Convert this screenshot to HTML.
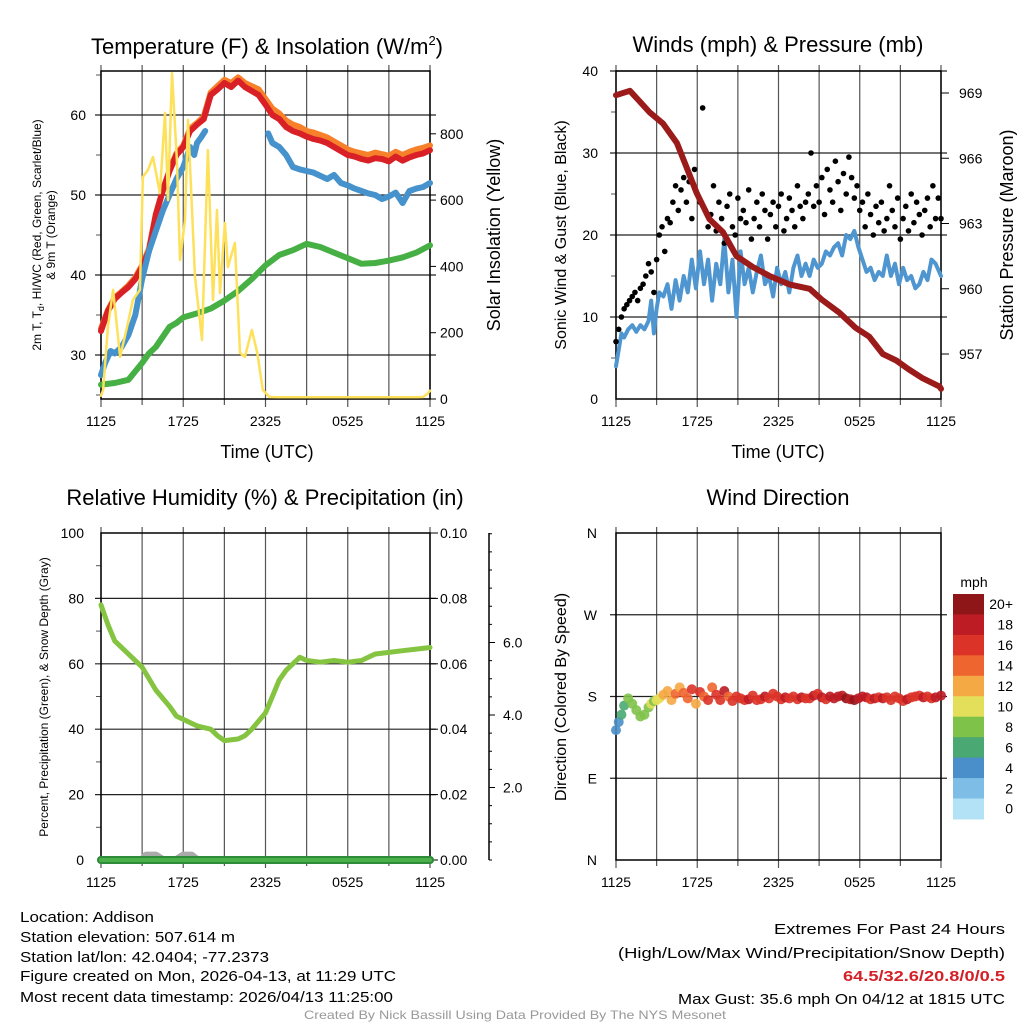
<!DOCTYPE html>
<html><head><meta charset="utf-8">
<style>
html,body{margin:0;padding:0;background:#fff;}
svg{display:block;font-family:"Liberation Sans",sans-serif;}
</style></head>
<body>
<svg id="chart" width="1024" height="1024" viewBox="0 0 1024 1024" xmlns="http://www.w3.org/2000/svg">
<rect x="0" y="0" width="1024" height="1024" fill="#fff"/>
<g id="p1"></g>
<g id="p2"></g>
<g id="p3"></g>
<g id="p4"></g>

<text x="267" y="54" font-size="22" text-anchor="middle">Temperature (F) &amp; Insolation (W/m<tspan font-size="13" dy="-9">2</tspan><tspan dy="9">)</tspan></text>
<text x="778" y="52" font-size="22" text-anchor="middle">Winds (mph) &amp; Pressure (mb)</text>
<text x="265" y="505" font-size="22" text-anchor="middle">Relative Humidity (%) &amp; Precipitation (in)</text>
<text x="778" y="505" font-size="22" text-anchor="middle">Wind Direction</text>

<text x="267" y="458" font-size="18" text-anchor="middle">Time (UTC)</text>
<text x="778" y="458" font-size="18" text-anchor="middle">Time (UTC)</text>

<text transform="translate(41,235) rotate(-90)" font-size="12" text-anchor="middle">2m T, T<tspan font-size="9" dy="3">d</tspan><tspan dy="-3">, HI/WC (Red, Green, Scarlet/Blue)</tspan></text>
<text transform="translate(55,235) rotate(-90)" font-size="12" text-anchor="middle">&amp; 9m T (Orange)</text>
<text transform="translate(500,235) rotate(-90)" font-size="18" text-anchor="middle">Solar Insolation (Yellow)</text>
<text transform="translate(566,235) rotate(-90)" font-size="16" text-anchor="middle">Sonic Wind &amp; Gust (Blue, Black)</text>
<text transform="translate(1013,235) rotate(-90)" font-size="18" text-anchor="middle">Station Pressure (Maroon)</text>
<text transform="translate(48,697) rotate(-90)" font-size="12" text-anchor="middle">Percent, Precipitation (Green), &amp; Snow Depth (Gray)</text>
<text transform="translate(566,697) rotate(-90)" font-size="16" text-anchor="middle">Direction (Colored By Speed)</text>

<g font-size="15">
<text x="20" y="922" textLength="134" lengthAdjust="spacingAndGlyphs">Location: Addison</text>
<text x="20" y="942" textLength="215" lengthAdjust="spacingAndGlyphs">Station elevation: 507.614 m</text>
<text x="20" y="962" textLength="249" lengthAdjust="spacingAndGlyphs">Station lat/lon: 42.0404; -77.2373</text>
<text x="20" y="981" textLength="376" lengthAdjust="spacingAndGlyphs">Figure created on Mon, 2026-04-13, at 11:29 UTC</text>
<text x="20" y="1002" textLength="373" lengthAdjust="spacingAndGlyphs">Most recent data timestamp: 2026/04/13 11:25:00</text>
</g>
<g font-size="15" text-anchor="end">
<text x="1005" y="934" textLength="231" lengthAdjust="spacingAndGlyphs">Extremes For Past 24 Hours</text>
<text x="1005" y="958" textLength="387" lengthAdjust="spacingAndGlyphs">(High/Low/Max Wind/Precipitation/Snow Depth)</text>
<text x="1005" y="981" textLength="162" lengthAdjust="spacingAndGlyphs" font-weight="bold" fill="#d42027">64.5/32.6/20.8/0/0.5</text>
<text x="1005" y="1004" textLength="327" lengthAdjust="spacingAndGlyphs">Max Gust: 35.6 mph On 04/12 at 1815 UTC</text>
</g>
<text x="515" y="1019" font-size="12" fill="#999" text-anchor="middle" textLength="422" lengthAdjust="spacingAndGlyphs">Created By Nick Bassill Using Data Provided By The NYS Mesonet</text>
</svg>
<script>
// ---------- data ----------
const X_TICK_LABELS = ["1125","1725","2325","0525","1125"];
const TEMP_H = [0,0.5,1,1.5,2,2.5,3,3.5,4,4.5,5,5.5,6,6.5,7,7.5,8,8.5,9,9.5,10,10.5,11,11.5,12,12.5,13,13.5,14,14.5,15,15.5,16,16.5,17,17.5,18,18.5,19,19.5,20,20.5,21,21.5,22,22.5,23,23.5,24];
const TEMP_RED = [33,35.5,37,37.8,38.5,39.5,41,43,47.5,50.5,53,55,56,58,58.8,59.5,62.5,63.2,64,63.5,64.3,63.5,63,62.5,61.3,60,59.5,58.5,58,57.7,57.3,57,56.8,56.5,56,55.5,55,54.8,54.5,54.3,54.6,54.5,54.2,54.8,54.3,54.7,55,55.2,55.6];
const TEMP_ORANGE = [33.3,35.6,37.2,37.9,38.7,39.7,41.2,43.3,47.6,50.6,53.1,55.2,56.2,58.3,59,59.8,62.8,63.6,64.4,64,64.7,64,63.6,63.2,62,60.8,60.2,59.3,58.8,58.5,58,57.8,57.5,57.2,56.7,56.2,55.7,55.4,55.2,55,55.3,55.1,54.9,55.4,55,55.4,55.7,55.9,56.2];
const BLUE1_H = [0,0.3,0.7,1,1.5,2,2.5,3,3.5,4,4.5,5,5.5,6,6.5,6.8,7,7.3,7.6];
const BLUE1 = [27.5,29,30.5,30.2,31,32.5,35,39.5,43,45.5,48,50,52,53.5,56,55,56.5,57.2,58];
const BLUE2_H = [12.2,12.5,13,13.5,14,14.5,15,15.5,16,16.5,17,17.5,18,18.5,19,19.5,20,20.5,21,21.5,22,22.5,23,23.5,24];
const BLUE2 = [57.7,56.5,56,55,53.5,53.2,53,52.8,52.4,52,52.5,51.5,51.2,50.8,50.5,50.2,50,49.5,49.8,50.3,49,50.5,50.8,51,51.5];
const GREEN_H = [0,1,2,3,3.5,4,5,5.5,6,7,8,9,10,11,12,13,14,15,16,17,18,19,20,21,22,23,24];
const GREEN = [26.3,26.5,26.9,29,30.2,31,33.5,34,34.7,35.2,35.8,36.8,38,39.5,41.2,42.5,43.1,43.9,43.5,42.8,42.1,41.4,41.5,41.8,42.2,42.8,43.7];
const SOLAR_H = [0,0.15,0.5,0.88,1.39,1.9,2.33,2.84,3.06,3.43,3.79,4.3,4.67,4.89,5.18,5.54,5.76,6.13,6.35,6.86,7.37,7.8,8.17,8.46,8.68,9.04,9.26,9.77,10.14,10.5,11,11.4,11.8,12.3,13,15,17,19,21,23,23.5,23.8,24];
const SOLAR = [10,27,217,329,127,217,299,329,670,691,730,621,863,600,983,721,419,540,842,368,178,751,299,570,320,531,398,471,139,127,208,139,27,6,5,5,5,5,5,5,6,15,25];

const PRES_H = [0,1.03,2.5,3.46,4.5,5.2,5.96,6.9,7.9,8.9,10.1,11.3,12.8,14.3,15.2,16.5,17.7,18.7,19.7,20.7,21.6,22.6,23.9,24];
const PRESSURE = [968.9,969.1,968.1,967.6,966.7,965.6,964.4,963.2,962.6,961.5,961.0,960.6,960.2,960.0,959.5,958.9,958.2,957.8,957.0,956.7,956.3,955.9,955.5,955.4];
const WIND_H = [0,0.2,0.4,0.6,0.9,1.2,1.5,1.8,2.1,2.4,2.6,2.8,3.0,3.2,3.5,3.8,4.1,4.4,4.7,5.0,5.3,5.6,5.9,6.2,6.5,6.8,7.1,7.4,7.7,8.0,8.3,8.6,8.9,9.2,9.5,9.8,10.1,10.4,10.7,11.0,11.3,11.6,11.9,12.2,12.5,12.8,13.1,13.4,13.7,14.0,14.3,14.6,14.9,15.2,15.5,15.8,16.1,16.4,16.7,17.0,17.3,17.6,17.9,18.2,18.5,18.8,19.1,19.4,19.7,20.0,20.3,20.6,20.9,21.2,21.5,21.8,22.1,22.4,22.7,23.0,23.3,23.6,24];
const WIND = [4,6,8,7.5,8.5,9,8.2,9,8.5,9.5,12,8,11,13,12.5,14,11,14.5,12,15,13,17,13.5,18,14,17,12,16.5,14,19.5,13,17,10,18,14,16,13,15.5,17.5,14,15,12.5,16,14,15.5,13,16,17.5,15,16.5,15,17,16,16.5,18,17.5,18.5,19,17.5,20,19.5,20.5,18.5,17,15.5,16,14.5,15.5,15,17.5,15,16.5,14,16,14.5,15,13.5,14,15.5,14.5,17,16.5,15];
const GUST = [7,8.5,10,11,11.5,12,12.5,13,12,13.5,14, 15,16.5,15.5,13,17, 20,21,18,22,21.5,24,26,23,25.5,27,24,26.5,22,28,25, 24,35.5,23,21,22.5,26,20.5,24,22,19,23.5,25,21,20,24.5,22,23,21.5,25.5,19.5, 22,24,21,25,23,19.5,22.5,24,21,23.5,25,20.5,22,24.5,23,21,26,23.5,22,24, 25,30,23.5,26,24,27,22.5,28,25.5,24,29,26.5,23,27.5,25,29.5,27,24.5,26,23, 24,21,25,22.5,20,23.5,21.5,24,20.5,22,26,23,21,24.5,19.5,22,23.5,20.5,25,21.5, 24,22.5,20,23,24.5,21,26,22,24.5,22];
const GUST_STEP_H = 0.2;

const RH_H = [0,0.5,1,2,3,4,5,5.5,6,7,8,8.5,9,10,10.5,11,12,12.5,13,13.5,14,14.5,15,16,17,18,19,19.5,20,21,22,23,24];
const RH = [78,72,67,63,59,52,47,44,43,41,40,38,36.5,37,38,40,45,50,55,58,60,62,61,60.5,61,60.5,61,62,63,63.5,64,64.5,65];
const SNOW_H = [0,3.0,3.3,4.0,4.5,5.5,6.0,6.6,7.0,24];
const SNOW = [0,0,0.12,0.12,0,0,0.12,0.12,0,0];

const DIR = [143,152,160,170,178,172,165,158,160,168,172,175,176,178,182,186,176,183,190,184,178,188,172,185,180,176,190,182,176,186,180,175,180,178,176,177,181,176,177,180,178,183,180,177,179,178,180,177,179,178,178,181,183,179,177,180,178,180,181,178,177,176,178,180,179,177,178,179,178,179,176,180,178,175,177,179,180,181,179,180,178,179,181];
const DIR_SPEED = [4,5,6,7, 8,8.5,8,9,8.5,9, 10,9.5,11,11, 12,13,12.5,14,13,15,14,16,13, 17,15,16,14,17,16,18,15,17,16, 17,16,18,17,16,17,18,17,16,17, 17,18,17,16,17,18,17,17,18,17, 18,17,18,19,18,18,20,19,20,18, 19,18,17,18,17,18,17,17,16,17, 17,18,17,16,17,18,17,17,18,18];
const SPEED_BINS = ["0","2","4","6","8","10","12","14","16","18","20+"];
const BIN_COLORS = ["#b3e1f6","#7dbde6","#4a8fc9","#4aa872","#7fc24a","#e4df5a","#f5a945","#ef6530","#dc3328","#bd1c24","#8e1518"];

// ---------- helpers ----------
const NS = "http://www.w3.org/2000/svg";
function mk(parent, tag, attrs){
  const e = document.createElementNS(NS, tag);
  for (const k in attrs) e.setAttribute(k, attrs[k]);
  parent.appendChild(e);
  return e;
}
function txt(parent, x, y, s, size, anchor){
  const t = mk(parent, "text", {x:x, y:y, "font-size":size, "text-anchor":anchor||"middle"});
  t.textContent = s;
  return t;
}
function poly(parent, hs, vs, sx, sy, color, w){
  const n = Math.min(hs.length, vs.length);
  let d = "";
  for (let i=0;i<n;i++) d += (i?"L":"M") + sx(hs[i]).toFixed(1) + "," + sy(vs[i]).toFixed(1);
  return mk(parent, "path", {d:d, fill:"none", stroke:color, "stroke-width":w, "stroke-linejoin":"round", "stroke-linecap":"round"});
}
function frame(g, x0, x1, y0, y1, yTicks, sy, minorTicks){
  for (let i=0;i<=8;i++){
    const x = x0 + (x1-x0)*i/8;
    const l = mk(g, "line", {x1:x, x2:x, y1:y0-6, y2:y1+(i%2===0?8:6), stroke:"#555", "stroke-width":1.2});
    
    
  }
  for (let i=0;i<X_TICK_LABELS.length;i++){
    const t = txt(g, x0 + (x1-x0)*i/4, y1+27, X_TICK_LABELS[i], 14);
    
    
  }
  for (const v of yTicks){
    const y = sy(v);
    const l = mk(g, "line", {x1:x0-6, x2:x1+6, y1:y, y2:y, stroke:"#222", "stroke-width":1.2});
    
    
  }
  if (minorTicks) for (const v of minorTicks){
    const l = mk(g, "line", {x1:x0-5, x2:x0, y1:sy(v), y2:sy(v), stroke:"#555", "stroke-width":1});
    
    
  }
  const b = mk(g, "rect", {x:x0, y:y0, width:x1-x0, height:y1-y0, fill:"none", stroke:"#000", "stroke-width":1.5});
  
  
}

// ---------- panel 1 ----------
(function(){
  const g = document.getElementById("p1");
  const X0=101, X1=430, Y0=71, Y1=399;
  const sx = h => X0 + (X1-X0)*h/24;
  const sy = T => 355 - (T-30)*8;
  const sw = W => 399 - W*0.3315;
  frame(g, X0, X1, Y0, Y1, [30,40,50,60], sy, [25,35,45,55,65]);
  for (const v of [30,40,50,60]){
    const t = txt(g, 86, sy(v)+5, String(v), 14, "end");
    
    
  }
  for (const w of [0,200,400,600,800]){
    const l = mk(g, "line", {x1:X1, x2:X1+6, y1:sw(w), y2:sw(w), stroke:"#000"});
    
    
    const t = txt(g, X1+10, sw(w)+5, String(w), 14, "start");
    
    
  }
  let p;
  p = poly(g, GREEN_H, GREEN, sx, sy, "#46b044", 6);
  
  
  p = poly(g, TEMP_H, TEMP_ORANGE, sx, sy, "#f7812a", 6);
  
  
  p = poly(g, TEMP_H, TEMP_RED, sx, sy, "#d92027", 6);
  
  
  p = poly(g, BLUE1_H, BLUE1, sx, sy, "#4692cc", 6);
  
  
  p = poly(g, BLUE2_H, BLUE2, sx, sy, "#4692cc", 6);
  
  
  p = poly(g, SOLAR_H, SOLAR, sx, sw, "#fde15a", 2.5);
  
  
})();

// ---------- panel 2 ----------
(function(){
  const g = document.getElementById("p2");
  const X0=616, X1=941, Y0=71, Y1=399;
  const sx = h => X0 + (X1-X0)*h/24;
  const sy = v => 399 - v*8.2;
  const sp = p => 93 + (969-p)*21.75;
  frame(g, X0, X1, Y0, Y1, [10,20,30,40], sy, [5,15,25,35]);
  for (const v of [0,10,20,30,40]){
    const t = txt(g, 598, sy(v)+5, String(v), 14, "end");
    
    
  }
  for (const pr of [969,966,963,960,957]){
    const l = mk(g, "line", {x1:X1, x2:X1+8, y1:sp(pr), y2:sp(pr), stroke:"#000"});
    
    
    const t = txt(g, X1+18, sp(pr)+5, String(pr), 14, "start");
    
    
  }
  let p = poly(g, WIND_H, WIND, sx, sy, "#4f96d1", 4);
  
  
  for (let i=0;i<GUST.length;i++){
    const c = mk(g, "circle", {cx:sx(i*GUST_STEP_H), cy:sy(GUST[i]), r:2.8, fill:"#000"});
    
    
  }
  p = poly(g, PRES_H, PRESSURE, sx, sp, "#9b1b1b", 6);
  
  
})();

// ---------- panel 3 ----------
(function(){
  const g = document.getElementById("p3");
  const X0=101, X1=430, Y0=533, Y1=860;
  const sx = h => X0 + (X1-X0)*h/24;
  const sy = v => 860 - v*3.27;
  const sd = d => 860 - d*36.25;
  frame(g, X0, X1, Y0, Y1, [20,40,60,80], sy, [10,30,50,70,90]);
  for (const v of [0,20,40,60,80,100]){
    const t = txt(g, 84, sy(v)+5, String(v), 14, "end");
    
    
  }
  const precipLabels = ["0.00","0.02","0.04","0.06","0.08","0.10"];
  for (let i=0;i<precipLabels.length;i++){
    const y = sy(i*20);
    const l = mk(g, "line", {x1:X1, x2:X1+8, y1:y, y2:y, stroke:"#000"});
    
    
    const t = txt(g, X1+10, y+5, precipLabels[i], 14, "start");
    
    
  }
  const ax = mk(g, "line", {x1:489, x2:489, y1:533, y2:860, stroke:"#000", "stroke-width":1.5});
  
  
  for (let d=0; d<=9; d+=0.5){
    const y = sd(d); if (y < 533) break;
    const major = (d===2||d===4||d===6);
    const l = mk(g, "line", {x1:489, x2:489+(major?6:3), y1:y, y2:y, stroke:"#000"});
    
    
  }
  for (const d of [2,4,6]){
    const t = txt(g, 503, sd(d)+5, d.toFixed(1), 14, "start");
    
    
  }
  let p = poly(g, RH_H, RH, sx, sy, "#84c441", 5);
  
  
  p = poly(g, SNOW_H, SNOW, sx, sd, "#aaaaaa", 8);
  
  
  p = poly(g, [0,24], [0,0], sx, sy, "#2e8b3a", 8);
  
  
  p = poly(g, [0,24], [0,0], sx, sy, "#4cb04a", 4);
  
  
})();

// ---------- panel 4 ----------
(function(){
  const g = document.getElementById("p4");
  const X0=616, X1=941, Y0=533, Y1=860;
  const sx = h => X0 + (X1-X0)*h/24;
  const sy = d => 860 - d*0.9083;
  frame(g, X0, X1, Y0, Y1, [90,180,270], sy, null);
  const dl = ["N","E","S","W","N"];
  for (let i=0;i<5;i++){
    const t = txt(g, 597, sy(i*90)+5, dl[i], 14, "end");
    
    
  }
  const n = Math.min(WIND_H.length, DIR.length, DIR_SPEED.length);
  for (let i=0;i<n;i++){
    const bin = Math.max(0, Math.min(10, Math.floor(DIR_SPEED[i]/2)));
    const c = mk(g, "circle", {cx:sx(WIND_H[i]), cy:sy(DIR[i]), r:5, fill:BIN_COLORS[bin], "fill-opacity":0.9});
    
    
  }
  const lg = mk(g, "g", {});
  
  
  const t0 = txt(lg, 974, 587, "mph", 14, "middle");
  
  
  const top = 594, bh = 20.45;
  for (let i=0;i<SPEED_BINS.length;i++){
    const k = SPEED_BINS.length-1-i;
    const r = mk(lg, "rect", {x:953, y:top+i*bh, width:31, height:bh+0.5, fill:BIN_COLORS[k]});
    
    
    const t = txt(lg, 1013, top+i*bh+bh/2+5, SPEED_BINS[k], 14, "end");
    
    
  }
})();
</script>
</body></html>
